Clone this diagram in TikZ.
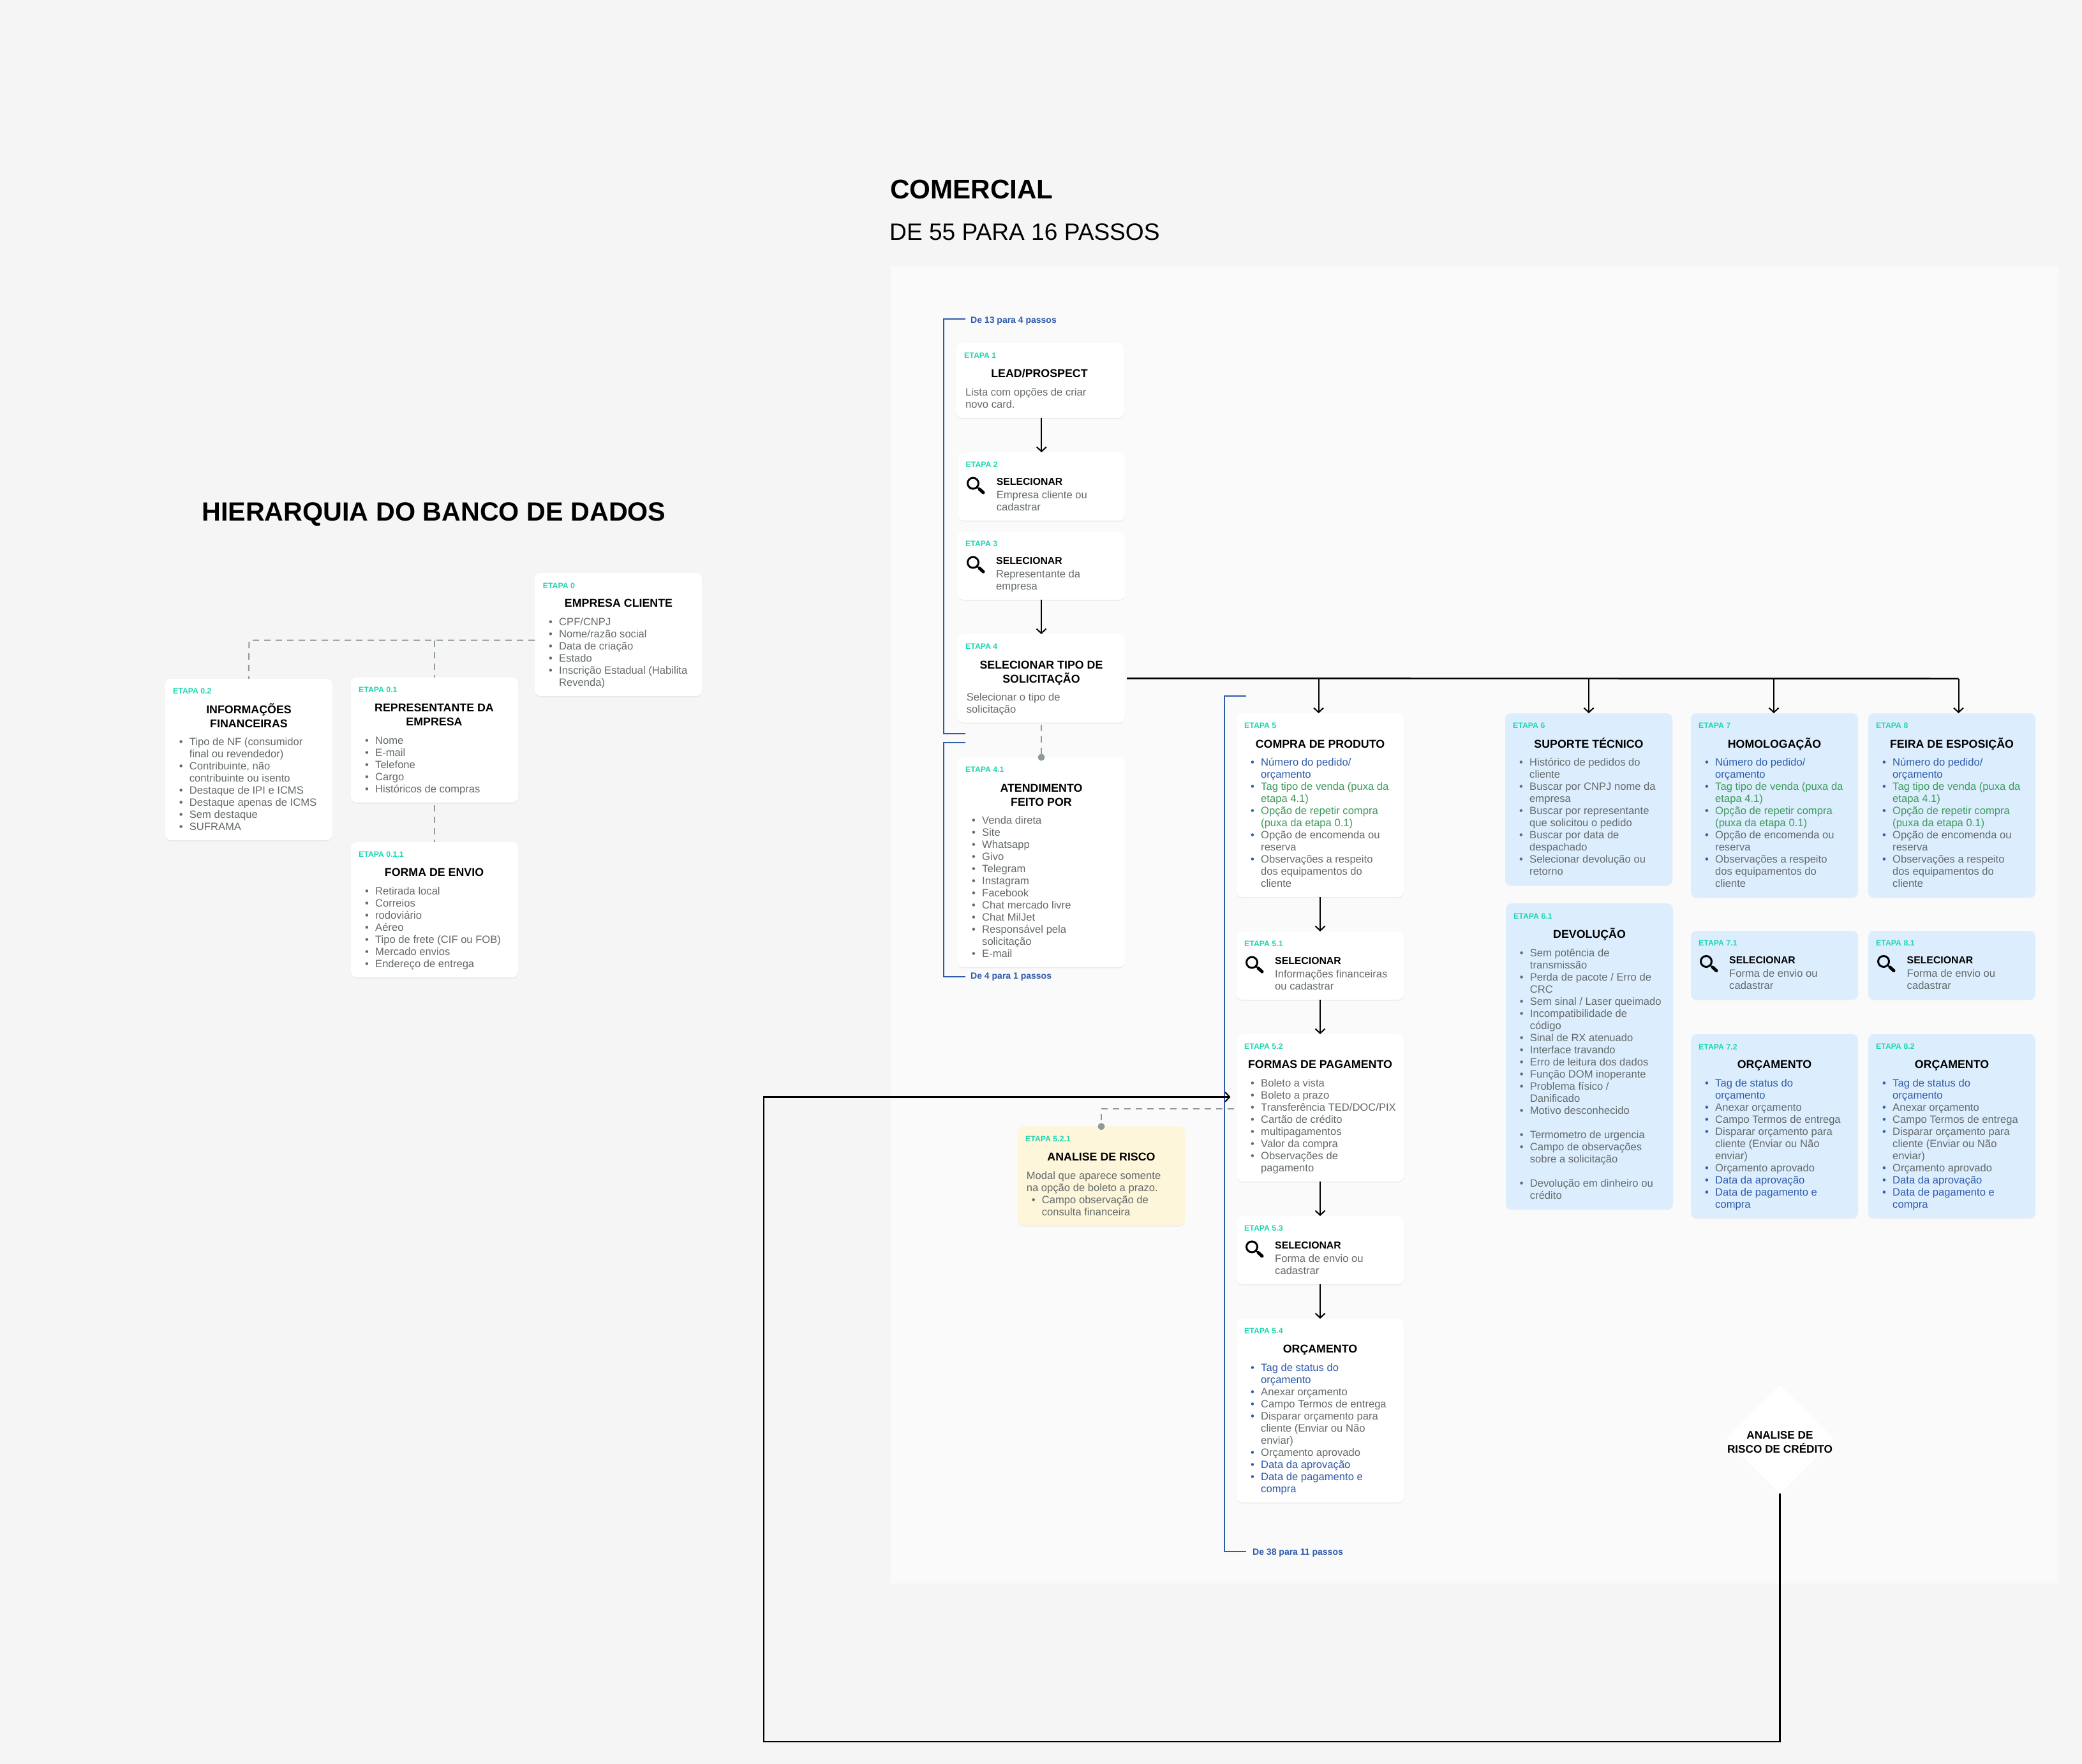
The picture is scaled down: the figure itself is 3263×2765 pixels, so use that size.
\documentclass[tikz,border=0pt]{standalone}
\usepackage{fontspec}
\setmainfont{Liberation Sans}
\usetikzlibrary{arrows.meta,shapes.geometric,shadows}
\lineskiplimit=-1000pt
\definecolor{pagebg}{HTML}{F5F5F5}
\definecolor{panelbg}{HTML}{FAFAFA}
\definecolor{cardblue}{HTML}{DCEEFE}
\definecolor{cardyellow}{HTML}{FDF6DA}
\definecolor{teal}{HTML}{1FD6B0}
\definecolor{gtext}{HTML}{646A6B}
\definecolor{btext}{HTML}{2F5BAA}
\definecolor{vtext}{HTML}{3D9A5A}
\definecolor{dashc}{HTML}{8F9A9A}
\tikzset{
 cardbox/.style={draw=none,rectangle,rounded corners=9pt,inner sep=0pt,outer sep=0pt,
   drop shadow={shadow xshift=0pt,shadow yshift=-1.5pt,opacity=0.06,fill=black}},
 etq/.style={anchor=west,inner sep=0pt,text=teal,font=\fontsize{12.3}{14}\selectfont\bfseries},
 titulo/.style={anchor=north,inner sep=0pt,align=center,text=black,font=\fontsize{17.8}{22}\selectfont\bfseries},
 lista/.style={anchor=north west,inner sep=0pt,align=left,text=gtext,font=\fontsize{16.6}{19}\selectfont},
 selec/.style={anchor=west,inner sep=0pt,text=black,font=\fontsize{15.8}{19}\selectfont\bfseries},
 brack/.style={anchor=west,inner sep=0pt,text=btext,font=\fontsize{14}{17}\selectfont\bfseries},
 flow/.style={draw=black,line width=2pt,-{Straight Barb[length=7pt,width=15pt,line width=2pt]}},
 bus/.style={draw=black,line width=2.4pt},
 loopline/.style={draw=black,line width=2.2pt},
 dashline/.style={draw=dashc,line width=2pt,dash pattern=on 10pt off 8pt},
 bracketline/.style={draw=btext,line width=2.4pt},
 dotmark/.style={circle,fill=dashc,minimum size=11pt,inner sep=0pt,outer sep=0pt},
 lens/.style={draw=black,line width=3pt},
 lenshandle/.style={draw=black,line width=5pt,line cap=round},
}
\newcommand{\carta}[6][white]{%
 \pgfmathsetmacro\cwid{#5-#3}\pgfmathsetmacro\chgt{#6-#4}%
 \node[cardbox,fill=#1,minimum width=\cwid pt,minimum height=\chgt pt] (#2) at ({(#3+#5)/2},{(#4+#6)/2}) {};}
\newcommand{\etapa}[4]{\node[etq] (#1) at (#2,#3) {#4};}
\newcommand{\ttl}[4]{\node[titulo] (#1) at (#2,{#3-9.15}) {\strut #4};}
\newcommand{\lst}[4]{\node[lista] (#1) at (#2,{#3-7.3}) {\strut #4};}
\newcommand{\selnode}[3]{\node[selec] (#1) at (#2,#3) {SELECIONAR};}
\newcommand{\lupa}[2]{%
 \draw[lens] ({#1+10},{#2+10}) circle[radius=8.5];
 \draw[lens,line width=2pt] ({#1+16},{#2+16}) -- ({#1+20},{#2+19});
 \draw[lenshandle] ({#1+20},{#2+19}) -- ({#1+26},{#2+24.5});}
\newcommand{\Bl}[1]{\makebox[16pt][l]{•}#1}
\newcommand{\Bb}[1]{\makebox[16pt][l]{\textcolor{btext}{•}}#1}
\newcommand{\Ct}[1]{\hspace*{16pt}#1}
\newcommand{\listCompra}{%
 \Bb{\textcolor{btext}{Número do pedido/}}\\\Ct{\textcolor{btext}{orçamento}}\\
 \Bb{\textcolor{vtext}{Tag tipo de venda (puxa da}}\\\Ct{\textcolor{vtext}{etapa 4.1)}}\\
 \Bb{\textcolor{vtext}{Opção de repetir compra}}\\\Ct{\textcolor{vtext}{(puxa da etapa 0.1)}}\\
 \Bb{Opção de encomenda ou}\\\Ct{reserva}\\
 \Bb{Observações a respeito}\\\Ct{dos equipamentos do}\\\Ct{cliente}}
\newcommand{\listOrc}{%
 \Bb{\textcolor{btext}{Tag de status do}}\\\Ct{\textcolor{btext}{orçamento}}\\
 \Bb{Anexar orçamento}\\
 \Bb{Campo Termos de entrega}\\
 \Bb{Disparar orçamento para}\\\Ct{cliente (Enviar ou Não}\\\Ct{enviar)}\\
 \Bb{Orçamento aprovado}\\
 \Bb{\textcolor{btext}{Data da aprovação}}\\
 \Bb{\textcolor{btext}{Data de pagamento e}}\\\Ct{\textcolor{btext}{compra}}}
\newcommand{\bracketpath}[5]{%
 \coordinate (#1a) at (#3,#4);\coordinate (#1b) at (#2,#4);\coordinate (#1c) at (#2,#5);\coordinate (#1d) at (#3,#5);
 \draw[bracketline] (#1a) -- (#1b) -- (#1c) -- (#1d);}
\begin{document}
\begin{tikzpicture}[x=1pt,y=-1pt]
\useasboundingbox (0,0) rectangle (3263,2765);
\fill[pagebg] (0,0) rectangle (3263,2765);
\fill[panelbg] (1396,418) rectangle (3226,2482);

% headings
\node[anchor=base west,inner sep=0pt,font=\fontsize{42.2}{50}\selectfont\bfseries] (hcom) at (1395,311) {COMERCIAL};
\node[anchor=base west,inner sep=0pt,text=black,font=\fontsize{37.1}{44}\selectfont] (hsub) at (1394,376) {DE 55 PARA 16 PASSOS};
\node[anchor=base west,inner sep=0pt,font=\fontsize{41.3}{48}\selectfont\bfseries] (hbd) at (316,816) {HIERARQUIA DO BANCO DE DADOS};

% brackets
\bracketpath{ba}{1478.8}{1513}{500}{1150}
\bracketpath{bb}{1479}{1512.5}{1163.7}{1530.7}
\bracketpath{bc}{1919}{1953}{1090.7}{2432}
\node[brack] (lba) at (1521,503) {De 13 para 4 passos};
\node[brack] (lbb) at (1521,1531) {De 4 para 1 passos};
\node[brack] (lbc) at (1963,2434) {De 38 para 11 passos};

% cards of the left hierarchy
\carta{c0}{838}{898}{1100}{1091}
\carta{c02}{259}{1064}{520.6}{1317}
\carta{c01}{550}{1062}{812}{1258}
\carta{c011}{550}{1320}{812}{1532}

% cards of the flow
\carta{c1}{1499}{538}{1761}{655}
\carta{c2}{1501.6}{709}{1763}{816}
\carta{c3}{1501}{833}{1763}{940}
\carta{c4}{1501}{994}{1763}{1132.6}
\carta{c41}{1501}{1187}{1763}{1516}
\carta{c5}{1938}{1118}{2200}{1406}
\carta{c51}{1938}{1460}{2200}{1567}
\carta{c52}{1938}{1621}{2200}{1852}
\carta{c53}{1938}{1906}{2200}{2013}
\carta{c54}{1938}{2067}{2200}{2355}
\carta[cardyellow]{c521}{1595}{1765.7}{1857}{1921}
\carta[cardblue]{c6}{2359}{1118}{2621}{1387}
\carta[cardblue]{c61}{2360}{1416}{2622}{1895}
\carta[cardblue]{c7}{2650}{1118}{2912}{1406}
\carta[cardblue]{c71}{2650}{1459}{2912}{1566}
\carta[cardblue]{c72}{2650}{1621}{2912}{1909}
\carta[cardblue]{c8}{2928}{1118}{3190}{1406}
\carta[cardblue]{c81}{2928}{1459}{3190}{1566}
\carta[cardblue]{c82}{2928}{1621}{3190}{1909}
\node[diamond,fill=white,draw=none,aspect=1,minimum width=170pt,minimum height=170pt,inner sep=0pt,outer sep=0pt,rounded corners=3pt] (dia) at (2789.5,2256) {};

% connectors
\coordinate (jh) at (390.4,1003.6);
\coordinate (jm) at (681,1003.6);
\draw[dashline] (jh -| c0.west) -- (jh) -- (c02.north);
\draw[dashline] (jm) -- (c01.north);
\draw[dashline] ([yshift=-4pt]c01.south) -- (c011.north);

\draw[flow] (c2.north |- c1.south) -- (c2.north);
\draw[flow] (c4.north |- c3.south) -- (c4.north);

\coordinate (j5) at (2066.6,1063.7);
\coordinate (j6) at (2490,1063.7);
\coordinate (j7) at (2780,1063.7);
\coordinate (j8) at (3069.5,1063.7);
\draw[bus] ([xshift=3pt]c4.east) -- (j8);
\draw[flow] (j5) -- (j5 |- c5.north);
\draw[flow] (j6) -- (j6 |- c6.north);
\draw[flow] (j7) -- (j7 |- c7.north);
\draw[flow] (j8) -- (j8 |- c8.north);

\draw[flow] (c5.south) -- (c51.north);
\draw[flow] (c51.south) -- (c52.north);
\draw[flow] (c52.south) -- (c53.north);
\draw[flow] (c53.south) -- (c54.north);

\node[dotmark] (d41) at (c41.north) {};
\draw[dashline] ([yshift=-3pt]c4.south) -- (d41);
\node[dotmark] (d521) at (c521.north) {};
\coordinate (k52) at (1934,1737.7);
\coordinate (k521) at (1726,1737.7);
\draw[dashline] (k52) -- (k521) -- (d521);

\coordinate (lpr) at (2789.5,2730);
\coordinate (lpl) at (1197,2730);
\coordinate (lpt) at (1197,1719.4);
\coordinate (lpe) at (1928.5,1719.4);
\draw[loopline,-{Straight Barb[length=7pt,width=15pt,line width=2pt]}] (dia.south) -- (lpr) -- (lpl) -- (lpt) -- (lpe);

% texts: left hierarchy
\etapa{e0}{850.6}{918}{ETAPA 0}
\ttl{t0}{969.5}{945.5}{EMPRESA CLIENTE}
\lst{l0}{860}{974}{\Bl{CPF/CNPJ}\\\Bl{Nome/razão social}\\\Bl{Data de criação}\\\Bl{Estado}\\\Bl{Inscrição Estadual (Habilita}\\\Ct{Revenda)}}

\etapa{e02}{271}{1083.4}{ETAPA 0.2}
\ttl{t02}{390}{1111.6}{INFORMAÇÕES\\FINANCEIRAS}
\lst{l02}{280.7}{1162.3}{\Bl{Tipo de NF (consumidor}\\\Ct{final ou revendedor)}\\\Bl{Contribuinte, não}\\\Ct{contribuinte ou isento}\\\Bl{Destaque de IPI e ICMS}\\\Bl{Destaque apenas de ICMS}\\\Bl{Sem destaque}\\\Bl{SUFRAMA}}

\etapa{e01}{562}{1081.6}{ETAPA 0.1}
\ttl{t01}{680.5}{1109.4}{REPRESENTANTE DA\\EMPRESA}
\lst{l01}{572}{1160.6}{\Bl{Nome}\\\Bl{E-mail}\\\Bl{Telefone}\\\Bl{Cargo}\\\Bl{Históricos de compras}}

\etapa{e011}{562}{1339.7}{ETAPA 0.1.1}
\ttl{t011}{680.5}{1367.4}{FORMA DE ENVIO}
\lst{l011}{572}{1396.5}{\Bl{Retirada local}\\\Bl{Correios}\\\Bl{rodoviário}\\\Bl{Aéreo}\\\Bl{Tipo de frete (CIF ou FOB)}\\\Bl{Mercado envios}\\\Bl{Endereço de entrega}}

% texts: first column
\etapa{e1}{1511}{557}{ETAPA 1}
\ttl{t1}{1629}{585}{LEAD/PROSPECT}
\lst{l1}{1513}{614.4}{Lista com opções de criar\\novo card.}

\etapa{e2}{1513.5}{728.5}{ETAPA 2}
\lupa{1515}{747.6}
\selnode{s2}{1561.6}{755}
\lst{l2}{1561.6}{775.3}{Empresa cliente ou\\cadastrar}

\etapa{e3}{1513}{852.5}{ETAPA 3}
\lupa{1515}{871.6}
\selnode{s3}{1561}{879}
\lst{l3}{1561}{899.3}{Representante da\\empresa}

\etapa{e4}{1513}{1013.4}{ETAPA 4}
\ttl{t4}{1632}{1041.6}{SELECIONAR TIPO DE\\SOLICITAÇÃO}
\lst{l4}{1514.7}{1092.3}{Selecionar o tipo de\\solicitação}

\etapa{e41}{1513}{1206.7}{ETAPA 4.1}
\ttl{t41}{1632}{1234.7}{ATENDIMENTO\\FEITO POR}
\lst{l41}{1523}{1285.7}{\Bl{Venda direta}\\\Bl{Site}\\\Bl{Whatsapp}\\\Bl{Givo}\\\Bl{Telegram}\\\Bl{Instagram}\\\Bl{Facebook}\\\Bl{Chat mercado livre}\\\Bl{Chat MilJet}\\\Bl{Responsável pela}\\\Ct{solicitação}\\\Bl{E-mail}}

% texts: second column
\etapa{e5}{1950}{1137.7}{ETAPA 5}
\ttl{t5}{2069}{1165.7}{COMPRA DE PRODUTO}
\lst{l5}{1960}{1194.7}{\listCompra}

\etapa{e51}{1950}{1479.4}{ETAPA 5.1}
\lupa{1952}{1498.6}
\selnode{s51}{1998}{1506.4}
\lst{l51}{1998}{1526.5}{Informações financeiras\\ou cadastrar}

\etapa{e52}{1950}{1640.5}{ETAPA 5.2}
\ttl{t52}{2069}{1668.5}{FORMAS DE PAGAMENTO}
\lst{l52}{1960}{1697.6}{\Bl{Boleto a vista}\\\Bl{Boleto a prazo}\\\Bl{Transferência TED/DOC/PIX}\\\Bl{Cartão de crédito}\\\Bl{multipagamentos}\\\Bl{Valor da compra}\\\Bl{Observações de}\\\Ct{pagamento}}

\etapa{e521}{1607}{1785.6}{ETAPA 5.2.1}
\ttl{t521}{1726}{1813.5}{ANALISE DE RISCO}
\lst{l521}{1608.7}{1842.6}{Modal que aparece somente\\na opção de boleto a prazo.\\\hspace*{8pt}\Bl{Campo observação de}\\\hspace*{8pt}\Ct{consulta financeira}}

\etapa{e53}{1950}{1925.6}{ETAPA 5.3}
\lupa{1952}{1944.4}
\selnode{s53}{1998}{1952.3}
\lst{l53}{1998}{1972.7}{Forma de envio ou\\cadastrar}

\etapa{e54}{1950}{2086.4}{ETAPA 5.4}
\ttl{t54}{2069}{2114}{ORÇAMENTO}
\lst{l54}{1960}{2143.4}{\listOrc}

% texts: third column
\etapa{e6}{2371}{1137.7}{ETAPA 6}
\ttl{t6}{2490}{1165.7}{SUPORTE TÉCNICO}
\lst{l6}{2381}{1194.4}{\Bl{Histórico de pedidos do}\\\Ct{cliente}\\\Bl{Buscar por CNPJ nome da}\\\Ct{empresa}\\\Bl{Buscar por representante}\\\Ct{que solicitou o pedido}\\\Bl{Buscar por data de}\\\Ct{despachado}\\\Bl{Selecionar devolução ou}\\\Ct{retorno}}

\etapa{e61}{2372}{1436}{ETAPA 6.1}
\ttl{t61}{2491}{1464}{DEVOLUÇÃO}
\lst{l61}{2381.7}{1493.4}{\Bl{Sem potência de}\\\Ct{transmissão}\\\Bl{Perda de pacote / Erro de}\\\Ct{CRC}\\\Bl{Sem sinal / Laser queimado}\\\Bl{Incompatibilidade de}\\\Ct{código}\\\Bl{Sinal de RX atenuado}\\\Bl{Interface travando}\\\Bl{Erro de leitura dos dados}\\\Bl{Função DOM inoperante}\\\Bl{Problema físico /}\\\Ct{Danificado}\\\Bl{Motivo desconhecido}\\\mbox{}\\\Bl{Termometro de urgencia}\\\Bl{Campo de observações}\\\Ct{sobre a solicitação}\\\mbox{}\\\Bl{Devolução em dinheiro ou}\\\Ct{crédito}}

% texts: fourth and fifth columns
\etapa{e7}{2662}{1137.7}{ETAPA 7}
\ttl{t7}{2781}{1165.7}{HOMOLOGAÇÃO}
\lst{l7}{2672}{1194.7}{\listCompra}
\etapa{e8}{2940}{1137.7}{ETAPA 8}
\ttl{t8}{3059}{1165.7}{FEIRA DE ESPOSIÇÃO}
\lst{l8}{2950}{1194.7}{\listCompra}

\etapa{e71}{2662}{1478.7}{ETAPA 7.1}
\lupa{2664}{1497}
\selnode{s71}{2710}{1505.3}
\lst{l71}{2710}{1525.7}{Forma de envio ou\\cadastrar}
\etapa{e81}{2940}{1478.7}{ETAPA 8.1}
\lupa{2942}{1497}
\selnode{s81}{2988.5}{1505.3}
\lst{l81}{2988.5}{1525.7}{Forma de envio ou\\cadastrar}

\etapa{e72}{2662}{1640.7}{ETAPA 7.2}
\ttl{t72}{2781}{1668.3}{ORÇAMENTO}
\lst{l72}{2672}{1697.7}{\listOrc}
\etapa{e82}{2940}{1640.7}{ETAPA 8.2}
\ttl{t82}{3059}{1668.3}{ORÇAMENTO}
\lst{l82}{2950}{1697.7}{\listOrc}

% diamond text
\node[anchor=center,inner sep=0pt,align=center,font=\fontsize{17.2}{22}\selectfont\bfseries] (dtext) at (2789.5,2260.5) {ANALISE DE\\RISCO DE CRÉDITO};
\end{tikzpicture}
\end{document}
